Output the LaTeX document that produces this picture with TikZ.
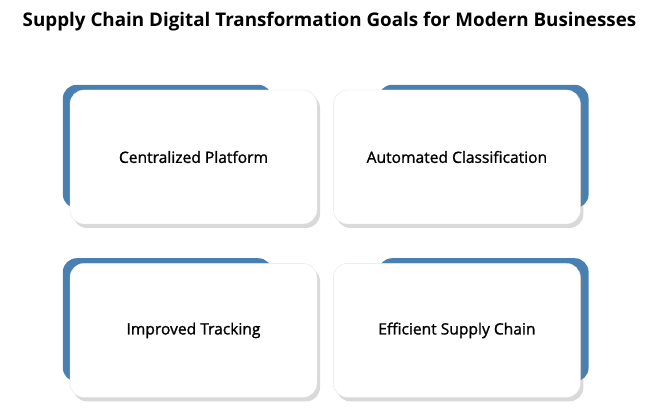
\documentclass[tikz,border=0pt]{standalone}
\usepackage{fontspec}
\setmainfont{Open Sans}
\newfontfamily\cardfont{Open Sans}[FakeBold=1.2]
\usepackage{tikz,xcolor}
\usetikzlibrary{calc}
\usetikzlibrary{positioning}
\usetikzlibrary{shadows,backgrounds}

\definecolor{goalblue}{RGB}{72,128,178}

\begin{document}
\begin{tikzpicture}[x=1pt,y=1pt,
    card/.style={draw=gray!20, fill=white, rounded corners=14pt,
      minimum width=247pt, minimum height=134pt, inner sep=0pt,
      font=\cardfont\fontsize{15.6}{18}\selectfont,
      drop shadow={shadow xshift=3pt, shadow yshift=-4pt, opacity=0.3, fill=gray}},
    backing/.style={fill=goalblue, rounded corners=14pt}]
    \useasboundingbox (0,0) rectangle (663,414);

    % Titulo
    \node[font=\fontsize{18.8}{22}\selectfont\bfseries] (title) at (329.5,392) {Supply Chain Digital Transformation Goals for Modern Businesses};

    % Cartoes
    \node[card] (cp) at (193.5,257) {Centralized Platform};
    \node[card, right=16pt of cp] (ac) {Automated Classification};
    \node[card, below=39pt of cp] (it) {Improved Tracking};
    \node[card, right=16pt of it] (esc) {Efficient Supply Chain};

    % Faixas azuis por tras
    \begin{pgfonlayer}{background}
      \fill[backing] ($(cp.south west)+(-7,16)$) rectangle ($(cp.north east)+(-45,5)$);
      \fill[backing] ($(ac.south west)+(45,16)$) rectangle ($(ac.north east)+(8,5)$);
      \fill[backing] ($(it.south west)+(-7,16)$) rectangle ($(it.north east)+(-45,5)$);
      \fill[backing] ($(esc.south west)+(45,16)$) rectangle ($(esc.north east)+(8,5)$);
    \end{pgfonlayer}
\end{tikzpicture}
\end{document}
